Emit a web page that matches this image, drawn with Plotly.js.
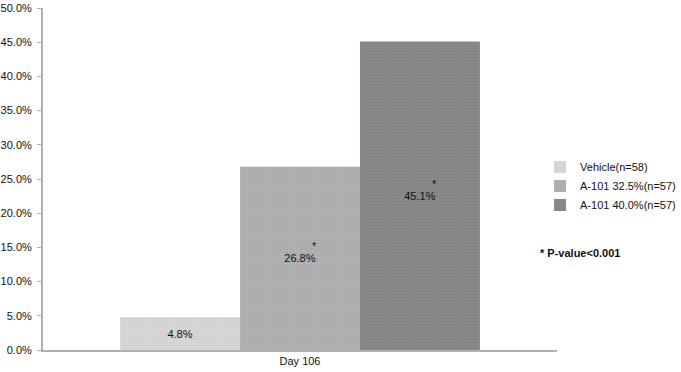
<!DOCTYPE html>
<html>
<head>
<meta charset="utf-8">
<script src="https://cdn.plot.ly/plotly-3.0.1.min.js"></script>
<style>html,body{margin:0;padding:0;background:#fff;}#chart{width:681px;height:372px;}</style>
</head>
<body>
<div id="chart"></div>
<script>
const categories = ['Day 106'];
const seriesNames = ['Vehicle(n=58)', 'A-101 32.5%(n=57)', 'A-101 40.0%(n=57)'];
const seriesValues = [[4.8], [26.8], [45.1]];
const seriesLabels = [['4.8%'], ['26.8%'], ['45.1%']];
const significant = [false, true, true];
const yTickVals = [0, 5, 10, 15, 20, 25, 30, 35, 40, 45, 50];
const yTickText = ['0.0%', '5.0%', '10.0%', '15.0%', '20.0%', '25.0%', '30.0%', '35.0%', '40.0%', '45.0%', '50.0%'];
const footnote = '* P-value<0.001';

const colors = ['#d9d9d9', '#b3b3b3', '#8b8b8b'];
const dotColors = ['#cccccc', '#a6a6a6', '#7d7d7d'];
const font = 'Liberation Sans, Arial, Helvetica, sans-serif';

const traces = seriesNames.map((name, i) => ({
  type: 'bar',
  name: name,
  x: categories,
  y: seriesValues[i],
  text: seriesLabels[i],
  textposition: 'inside',
  insidetextanchor: 'middle',
  textangle: 0,
  textfont: {family: font, size: 11, color: '#111'},
  marker: {color: colors[i], line: {width: 0},
           pattern: {shape: '.', fgcolor: dotColors[i], bgcolor: colors[i], size: 3, solidity: 0.3}},
  hoverinfo: 'none'
}));

const barPx = 120;
const annotations = [];
seriesValues.forEach((vals, i) => {
  if (!significant[i]) return;
  vals.forEach((v, j) => {
    annotations.push({
      x: categories[j], y: v / 2, xref: 'x', yref: 'y',
      text: '*', showarrow: false,
      xshift: (i - 1) * barPx + 14, yshift: 12,
      font: {family: font, size: 11, color: '#111'}
    });
  });
});
annotations.push({
  xref: 'paper', yref: 'paper', x: 0.963, y: 0.285, xanchor: 'left', yanchor: 'middle',
  text: '<b>' + footnote.replace('<', '&lt;') + '</b>', showarrow: false,
  font: {family: font, size: 11, color: '#111'}
});

const layout = {
  width: 681, height: 372,
  margin: {l: 43, r: 124, t: 8, b: 22, autoexpand: false},
  paper_bgcolor: '#fff', plot_bgcolor: '#fff',
  barmode: 'group', bargap: 0.3, bargroupgap: 0,
  font: {family: font, size: 11, color: '#111'},
  showlegend: true,
  legend: {xref: 'container', yref: 'container', x: 0.793, y: 0.5, xanchor: 'left', yanchor: 'middle',
           font: {family: font, size: 11, color: '#111'}, tracegroupgap: 0,
           itemwidth: 30, bgcolor: 'rgba(0,0,0,0)'},
  xaxis: {type: 'category', showline: true, linecolor: '#b0b0b0', linewidth: 2,
          ticks: '', showgrid: false, zeroline: false, tickfont: {family: font, size: 11, color: '#111'}},
  yaxis: {range: [0, 50], tickvals: yTickVals, ticktext: yTickText, showline: true,
          linecolor: '#b0b0b0', linewidth: 2, ticks: 'outside', ticklen: 4, tickcolor: '#b0b0b0',
          ticklabelstandoff: 3,
          showgrid: false, zeroline: false, tickfont: {family: font, size: 11, color: '#111'}},
  annotations: annotations
};

Plotly.newPlot('chart', traces, layout, {displayModeBar: false, staticPlot: true});
</script>
</body>
</html>
